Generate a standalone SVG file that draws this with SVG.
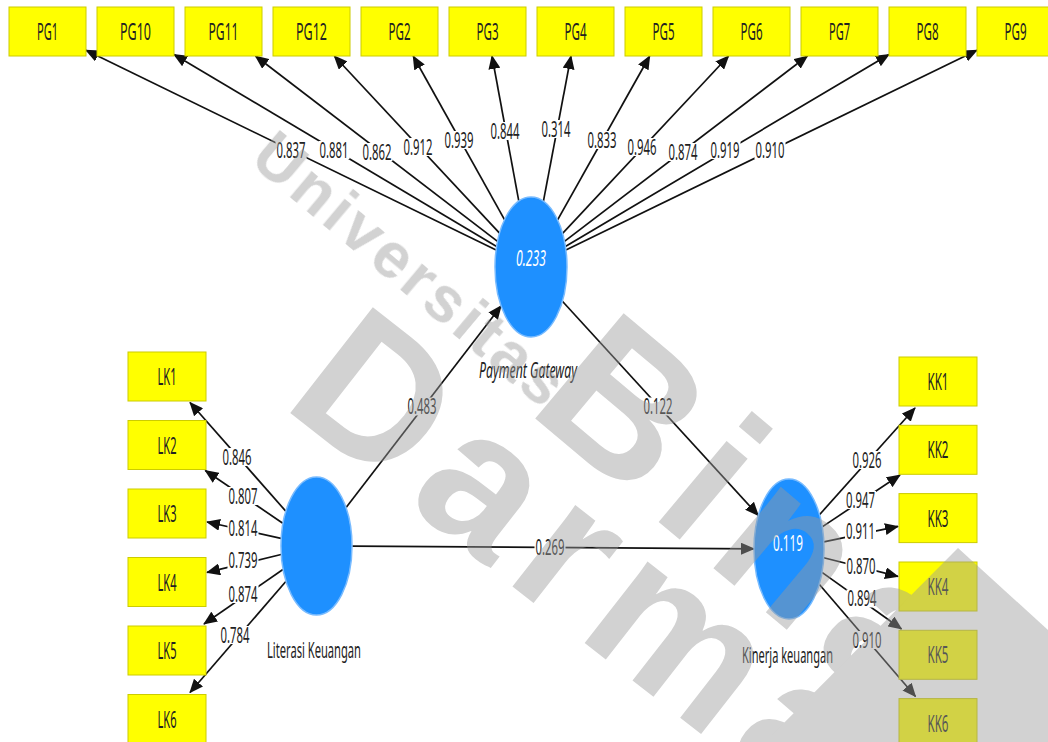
<svg xmlns="http://www.w3.org/2000/svg" width="1048" height="742" viewBox="0 0 1048 742">
<defs>
<style>
.box{fill:#ffff00;stroke:#cccc00;stroke-width:1}
.t{font-family:"Noto Sans","Liberation Sans",sans-serif;font-size:23px;fill:#222;text-anchor:middle}
.n{font-size:21px}
.w{fill:#ffffff}
.it{font-style:italic}
.edge{stroke:#111;stroke-width:1.7;fill:none;marker-end:url(#ah)}
.lbg{fill:#ffffff}
.lv{fill:#1e90ff;stroke:#78bbff;stroke-width:1.5}
.wm{font-family:"Liberation Sans",Arial,sans-serif;font-weight:bold;fill:#9a9a9a}
</style>
<marker id="ah" markerUnits="userSpaceOnUse" markerWidth="14" markerHeight="12" refX="13" refY="6" orient="auto">
<path d="M0,0 L14,6 L0,12 Z" fill="#111"/>
</marker>
</defs>
<rect width="1048" height="742" fill="#ffffff"/>

<g id="connectors">
<line class="edge" x1="496.1" y1="250.0" x2="86" y2="50.3"/>
<line class="edge" x1="496.6" y1="246.5" x2="174" y2="54.4"/>
<line class="edge" x1="497.5" y1="241.4" x2="255.5" y2="56"/>
<line class="edge" x1="499.5" y1="233.2" x2="334.3" y2="56"/>
<line class="edge" x1="504.5" y1="219.6" x2="413.2" y2="56"/>
<line class="edge" x1="518.8" y1="201.1" x2="492" y2="56"/>
<line class="edge" x1="543.4" y1="201.3" x2="571" y2="56"/>
<line class="edge" x1="557.6" y1="219.8" x2="649.7" y2="56"/>
<line class="edge" x1="562.6" y1="233.3" x2="728.6" y2="56"/>
<line class="edge" x1="564.5" y1="241.4" x2="807.4" y2="56"/>
<line class="edge" x1="565.4" y1="246.6" x2="889" y2="54.4"/>
<line class="edge" x1="565.9" y1="250.0" x2="977" y2="50.2"/>

<line class="edge" x1="285.7" y1="511.1" x2="190" y2="402.5"/>
<line class="edge" x1="282.8" y1="523.2" x2="205.3" y2="470.5"/>
<line class="edge" x1="281.0" y1="538.3" x2="207" y2="522"/>
<line class="edge" x1="281.1" y1="554.5" x2="207" y2="572.4"/>
<line class="edge" x1="282.9" y1="569.5" x2="204" y2="624"/>
<line class="edge" x1="285.8" y1="581.5" x2="190" y2="692.5"/>

<line class="edge" x1="819.5" y1="514.7" x2="915" y2="408"/>
<line class="edge" x1="822.2" y1="526.9" x2="900" y2="475"/>
<line class="edge" x1="823.8" y1="541.8" x2="898" y2="526.4"/>
<line class="edge" x1="823.7" y1="557.7" x2="898" y2="576.4"/>
<line class="edge" x1="822" y1="572.4" x2="901.5" y2="629"/>
<line class="edge" x1="819.2" y1="584.3" x2="915.5" y2="696.5"/>

<line class="edge" x1="346.1" y1="507.4" x2="501.1" y2="305.9"/>
<line class="edge" x1="562.4" y1="301.3" x2="758.3" y2="515.4"/>
<line class="edge" x1="352.2" y1="546.2" x2="754" y2="548.8"/>

<g id="edge-labels">
<rect class="lbg" x="275.5" y="141" width="31" height="18"/><text class="t n" x="291" y="157.5" textLength="29" lengthAdjust="spacingAndGlyphs">0.837</text>
<rect class="lbg" x="318.5" y="141" width="31" height="18"/><text class="t n" x="334" y="157.5" textLength="29" lengthAdjust="spacingAndGlyphs">0.881</text>
<rect class="lbg" x="361.5" y="143" width="31" height="18"/><text class="t n" x="377" y="159.5" textLength="29" lengthAdjust="spacingAndGlyphs">0.862</text>
<rect class="lbg" x="402.5" y="138" width="31" height="18"/><text class="t n" x="418" y="154.5" textLength="29" lengthAdjust="spacingAndGlyphs">0.912</text>
<rect class="lbg" x="443.5" y="131" width="31" height="18"/><text class="t n" x="459" y="147.5" textLength="29" lengthAdjust="spacingAndGlyphs">0.939</text>
<rect class="lbg" x="489.5" y="122" width="31" height="18"/><text class="t n" x="505" y="138.5" textLength="29" lengthAdjust="spacingAndGlyphs">0.844</text>
<rect class="lbg" x="540.5" y="120" width="31" height="18"/><text class="t n" x="556" y="136.5" textLength="29" lengthAdjust="spacingAndGlyphs">0.314</text>
<rect class="lbg" x="586.5" y="131" width="31" height="18"/><text class="t n" x="602" y="147.5" textLength="29" lengthAdjust="spacingAndGlyphs">0.833</text>
<rect class="lbg" x="626.5" y="138" width="31" height="18"/><text class="t n" x="642" y="154.5" textLength="29" lengthAdjust="spacingAndGlyphs">0.946</text>
<rect class="lbg" x="667.5" y="143" width="31" height="18"/><text class="t n" x="683" y="159.5" textLength="29" lengthAdjust="spacingAndGlyphs">0.874</text>
<rect class="lbg" x="709.5" y="141" width="31" height="18"/><text class="t n" x="725" y="157.5" textLength="29" lengthAdjust="spacingAndGlyphs">0.919</text>
<rect class="lbg" x="754.5" y="141" width="31" height="18"/><text class="t n" x="770" y="157.5" textLength="29" lengthAdjust="spacingAndGlyphs">0.910</text>

<rect class="lbg" x="221.5" y="448" width="31" height="18"/><text class="t n" x="237" y="464.5" textLength="29" lengthAdjust="spacingAndGlyphs">0.846</text>
<rect class="lbg" x="227.5" y="487" width="31" height="18"/><text class="t n" x="243" y="503.5" textLength="29" lengthAdjust="spacingAndGlyphs">0.807</text>
<rect class="lbg" x="227.5" y="519" width="31" height="18"/><text class="t n" x="243" y="535.5" textLength="29" lengthAdjust="spacingAndGlyphs">0.814</text>
<rect class="lbg" x="227.5" y="551" width="31" height="18"/><text class="t n" x="243" y="567.5" textLength="29" lengthAdjust="spacingAndGlyphs">0.739</text>
<rect class="lbg" x="227.5" y="585" width="31" height="18"/><text class="t n" x="243" y="601.5" textLength="29" lengthAdjust="spacingAndGlyphs">0.874</text>
<rect class="lbg" x="219.5" y="626" width="31" height="18"/><text class="t n" x="235" y="642.5" textLength="29" lengthAdjust="spacingAndGlyphs">0.784</text>

<rect class="lbg" x="851.5" y="451" width="31" height="18"/><text class="t n" x="867" y="467.5" textLength="29" lengthAdjust="spacingAndGlyphs">0.926</text>
<rect class="lbg" x="845" y="491" width="31" height="18"/><text class="t n" x="860.5" y="507.5" textLength="29" lengthAdjust="spacingAndGlyphs">0.947</text>
<rect class="lbg" x="845" y="522.5" width="31" height="18"/><text class="t n" x="860.5" y="539" textLength="29" lengthAdjust="spacingAndGlyphs">0.911</text>
<rect class="lbg" x="845.5" y="557.5" width="31" height="18"/><text class="t n" x="861" y="574" textLength="29" lengthAdjust="spacingAndGlyphs">0.870</text>
<rect class="lbg" x="846.5" y="589.5" width="31" height="18"/><text class="t n" x="862" y="606" textLength="29" lengthAdjust="spacingAndGlyphs">0.894</text>
<rect class="lbg" x="851.5" y="631" width="31" height="18"/><text class="t n" x="867" y="647.5" textLength="29" lengthAdjust="spacingAndGlyphs">0.910</text>

<rect class="lbg" x="406.5" y="397.5" width="31" height="18"/><text class="t n" x="422" y="414" textLength="29" lengthAdjust="spacingAndGlyphs">0.483</text>
<rect class="lbg" x="642.5" y="397.5" width="31" height="18"/><text class="t n" x="658" y="414" textLength="29" lengthAdjust="spacingAndGlyphs">0.122</text>
<rect class="lbg" x="534.5" y="538" width="31" height="18"/><text class="t n" x="550" y="554.5" textLength="29" lengthAdjust="spacingAndGlyphs">0.269</text>
</g>
</g>

<g id="PG1"><rect class="box" x="9" y="7" width="77" height="49"/><text class="t" x="47.5" y="40" textLength="21" lengthAdjust="spacingAndGlyphs">PG1</text></g>
<g id="PG10"><rect class="box" x="97" y="7" width="77" height="49"/><text class="t" x="135.5" y="40" textLength="31" lengthAdjust="spacingAndGlyphs">PG10</text></g>
<g id="PG11"><rect class="box" x="185" y="7" width="77" height="49"/><text class="t" x="223.5" y="40" textLength="30" lengthAdjust="spacingAndGlyphs">PG11</text></g>
<g id="PG12"><rect class="box" x="273" y="7" width="77" height="49"/><text class="t" x="311.5" y="40" textLength="31" lengthAdjust="spacingAndGlyphs">PG12</text></g>
<g id="PG2"><rect class="box" x="361" y="7" width="77" height="49"/><text class="t" x="399.5" y="40" textLength="22" lengthAdjust="spacingAndGlyphs">PG2</text></g>
<g id="PG3"><rect class="box" x="449" y="7" width="77" height="49"/><text class="t" x="487.5" y="40" textLength="22" lengthAdjust="spacingAndGlyphs">PG3</text></g>
<g id="PG4"><rect class="box" x="537" y="7" width="77" height="49"/><text class="t" x="575.5" y="40" textLength="22" lengthAdjust="spacingAndGlyphs">PG4</text></g>
<g id="PG5"><rect class="box" x="625" y="7" width="77" height="49"/><text class="t" x="663.5" y="40" textLength="22" lengthAdjust="spacingAndGlyphs">PG5</text></g>
<g id="PG6"><rect class="box" x="713" y="7" width="77" height="49"/><text class="t" x="751.5" y="40" textLength="22" lengthAdjust="spacingAndGlyphs">PG6</text></g>
<g id="PG7"><rect class="box" x="801" y="7" width="77" height="49"/><text class="t" x="839.5" y="40" textLength="21" lengthAdjust="spacingAndGlyphs">PG7</text></g>
<g id="PG8"><rect class="box" x="889" y="7" width="77" height="49"/><text class="t" x="927.5" y="40" textLength="22" lengthAdjust="spacingAndGlyphs">PG8</text></g>
<g id="PG9"><rect class="box" x="977" y="7" width="77" height="49"/><text class="t" x="1015.5" y="40" textLength="22" lengthAdjust="spacingAndGlyphs">PG9</text></g>

<g id="LK1"><rect class="box" x="128" y="352" width="78" height="49"/><text class="t" x="167" y="385" textLength="19" lengthAdjust="spacingAndGlyphs">LK1</text></g>
<g id="LK2"><rect class="box" x="128" y="420.5" width="78" height="49"/><text class="t" x="167" y="453.5" textLength="19" lengthAdjust="spacingAndGlyphs">LK2</text></g>
<g id="LK3"><rect class="box" x="128" y="489" width="78" height="49"/><text class="t" x="167" y="522" textLength="19" lengthAdjust="spacingAndGlyphs">LK3</text></g>
<g id="LK4"><rect class="box" x="128" y="557.5" width="78" height="49"/><text class="t" x="167" y="590.5" textLength="19" lengthAdjust="spacingAndGlyphs">LK4</text></g>
<g id="LK5"><rect class="box" x="128" y="626" width="78" height="49"/><text class="t" x="167" y="659" textLength="19" lengthAdjust="spacingAndGlyphs">LK5</text></g>
<g id="LK6"><rect class="box" x="128" y="694.5" width="78" height="49"/><text class="t" x="167" y="727.5" textLength="19" lengthAdjust="spacingAndGlyphs">LK6</text></g>

<g id="KK1"><rect class="box" x="899" y="357" width="78" height="49"/><text class="t" x="938" y="390" textLength="21" lengthAdjust="spacingAndGlyphs">KK1</text></g>
<g id="KK2"><rect class="box" x="899" y="425.3" width="78" height="49"/><text class="t" x="938" y="458.3" textLength="21" lengthAdjust="spacingAndGlyphs">KK2</text></g>
<g id="KK3"><rect class="box" x="899" y="493.6" width="78" height="49"/><text class="t" x="938" y="526.6" textLength="21" lengthAdjust="spacingAndGlyphs">KK3</text></g>
<g id="KK4"><rect class="box" x="899" y="562" width="78" height="49"/><text class="t" x="938" y="595" textLength="21" lengthAdjust="spacingAndGlyphs">KK4</text></g>
<g id="KK5"><rect class="box" x="899" y="630.3" width="78" height="49"/><text class="t" x="938" y="663.3" textLength="21" lengthAdjust="spacingAndGlyphs">KK5</text></g>
<g id="KK6"><rect class="box" x="899" y="698.6" width="78" height="49"/><text class="t" x="938" y="731.6" textLength="21" lengthAdjust="spacingAndGlyphs">KK6</text></g>

<g id="PaymentGateway">
<ellipse class="lv" cx="531" cy="267" rx="36" ry="70"/>
<text class="t w it n" x="531" y="266" textLength="30" lengthAdjust="spacingAndGlyphs">0.233</text>
<text class="t it n" x="528" y="378" textLength="98" lengthAdjust="spacingAndGlyphs">Payment Gateway</text>
</g>
<g id="LiterasiKeuangan">
<ellipse class="lv" cx="316.5" cy="546" rx="35.5" ry="69"/>
<text class="t n" x="314" y="658" textLength="94" lengthAdjust="spacingAndGlyphs">Literasi Keuangan</text>
</g>
<g id="KinerjaKeuangan">
<ellipse class="lv" cx="789" cy="549" rx="35" ry="70"/>
<text class="t w n" x="788" y="551" textLength="30" lengthAdjust="spacingAndGlyphs">0.119</text>
<text class="t n" x="787.5" y="663" textLength="91" lengthAdjust="spacingAndGlyphs">Kinerja keuangan</text>
</g>

<g id="watermark" opacity="0.45">
<text class="wm" font-size="64" letter-spacing="4" transform="translate(248,162) rotate(40)">Universitas</text>
<text class="wm" font-size="200" letter-spacing="16" transform="translate(525,410) rotate(40)">Bina</text>
<text class="wm" font-size="195" letter-spacing="16" transform="translate(280,405) rotate(38)">Darma</text>
<polygon points="958,548 1048,630 1048,742 765,742" fill="#9a9a9a"/>
</g>
</svg>
